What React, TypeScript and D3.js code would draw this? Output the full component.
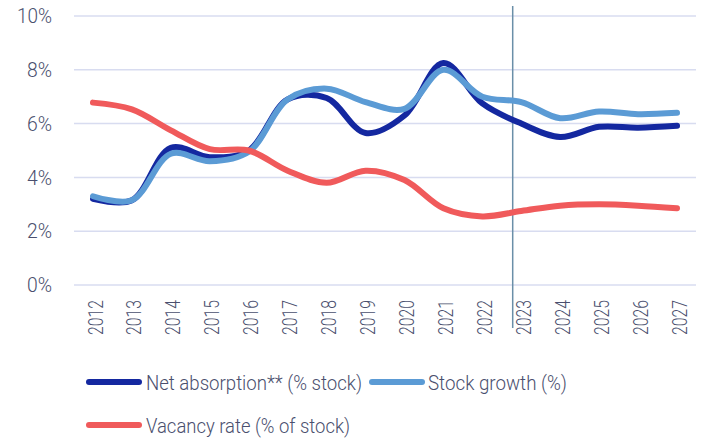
import React from "react";
import * as d3 from "d3";

const years = [2012, 2013, 2014, 2015, 2016, 2017, 2018, 2019, 2020, 2021, 2022, 2023, 2024, 2025, 2026, 2027];
const netAbsorption = [3.2, 3.15, 5.1, 4.75, 5.0, 6.9, 6.95, 5.65, 6.3, 8.25, 6.75, 6.0, 5.5, 5.88, 5.85, 5.92];
const stockGrowth = [3.3, 3.15, 4.88, 4.6, 4.95, 6.9, 7.3, 6.8, 6.55, 8.0, 7.0, 6.8, 6.2, 6.45, 6.35, 6.4];
const vacancyRate = [6.78, 6.53, 5.75, 5.05, 5.0, 4.25, 3.8, 4.25, 3.9, 2.85, 2.55, 2.75, 2.95, 3.0, 2.95, 2.85];
const yTicks = [0, 2, 4, 6, 8, 10];
const forecastMarker = 2022.78;

const seriesNames = ["Net absorption** (% stock)", "Stock growth (%)", "Vacancy rate (% of stock)"];
const seriesColors = ["#1428a0", "#5b9bd5", "#f05a5b"];

const FONT = "Roboto, 'Noto Sans', sans-serif";
const TEXT = "#4a4f6e";

export default function App() {
  const W = 703, H = 439;
  const x = d3.scaleLinear().domain([2012, 2027]).range([93, 677]);
  const y = d3.scaleLinear().domain([0, 10]).range([285, 16]);
  const line = d3
    .line<number>()
    .x((_, i) => x(years[i]))
    .y((d) => y(d))
    .curve(d3.curveCatmullRom.alpha(0.5));
  const data = [netAbsorption, stockGrowth, vacancyRate];
  const legend = [
    { i: 0, sx: 86, tx: 146, tw: 216, ly: 382 },
    { i: 1, sx: 369, tx: 428, tw: 139, ly: 382 },
    { i: 2, sx: 86, tx: 146, tw: 204, ly: 425 },
  ];

  return (
    <svg width={W} height={H} style={{ position: "absolute", left: 0, top: 0, background: "#fff" }}>
      {yTicks.map((t) => (
        <g key={t}>
          <line x1={74} x2={696} y1={y(t)} y2={y(t)} stroke="#d8dcf0" strokeWidth={1.5} />
          <text
            x={52}
            y={y(t)}
            dy="0.36em"
            textAnchor="end"
            fontFamily={FONT}
            fontWeight={300}
            fontSize={20}
            fill={TEXT}
            textLength={t === 10 ? 35 : 25}
            lengthAdjust="spacingAndGlyphs"
          >
            {t}%
          </text>
        </g>
      ))}
      {years.map((yr) => (
        <text
          key={yr}
          transform={`translate(${x(yr) + 2},300) rotate(-90)`}
          textAnchor="end"
          dy="0.36em"
          fontFamily={FONT}
          fontWeight={300}
          fontSize={21}
          fill={TEXT}
          textLength={35}
          lengthAdjust="spacingAndGlyphs"
        >
          {yr}
        </text>
      ))}
      <line x1={x(forecastMarker)} x2={x(forecastMarker)} y1={6} y2={328} stroke="#6a8fa8" strokeWidth={1.5} />
      {data.map((d, i) => (
        <path key={i} d={line(d) ?? ""} fill="none" stroke={seriesColors[i]} strokeWidth={6} strokeLinecap="round" strokeLinejoin="round" />
      ))}
      {legend.map(({ i, sx, tx, tw, ly }) => (
        <g key={i}>
          <line x1={sx + 3} x2={sx + 53} y1={ly} y2={ly} stroke={seriesColors[i]} strokeWidth={6} strokeLinecap="round" />
          <text
            x={tx}
            y={ly}
            dy="0.36em"
            fontFamily={FONT}
            fontWeight={300}
            fontSize={21}
            fill={TEXT}
            textLength={tw}
            lengthAdjust="spacingAndGlyphs"
          >
            {seriesNames[i]}
          </text>
        </g>
      ))}
    </svg>
  );
}
